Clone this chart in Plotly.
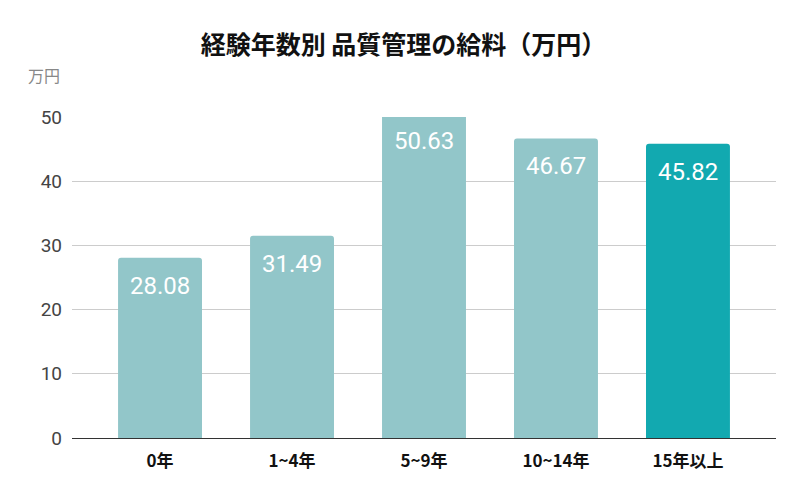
import plotly.graph_objects as go

categories = ["0年", "1~4年", "5~9年", "10~14年", "15年以上"]
values = [28.08, 31.49, 50.63, 46.67, 45.82]
bar_colors = ["#92C6C9", "#92C6C9", "#92C6C9", "#92C6C9", "#12A9B0"]
y_ticks = [0, 10, 20, 30, 40, 50]
y_range = [0, 50]

title_text = "経験年数別 品質管理の給料（万円）"
unit_text = "万円"

FONT = "Roboto, 'Noto Sans CJK JP', sans-serif"
CJK = "'Noto Sans CJK JP', sans-serif"

# page body has an 8px margin, so the figure sits at (8, 8)
OFF = 8
W, H = 799 - OFF, 494 - OFF

fig = go.Figure()
fig.add_trace(go.Bar(
    x=categories,
    y=values,
    marker=dict(color=bar_colors, line=dict(width=0)),
    hoverinfo="skip",
))

for c, v in zip(categories, values):
    fig.add_annotation(
        x=c, xref="x",
        y=(v - y_range[0]) / (y_range[1] - y_range[0]), yref="y domain",
        text=f"{v:.2f}", showarrow=False,
        yshift=-28, yanchor="middle",
        font=dict(family=FONT, size=24, color="white"),
    )

fig.add_annotation(
    x=0, y=1, xref="paper", yref="paper",
    text=unit_text, showarrow=False,
    xanchor="center", yanchor="middle", xshift=-28, yshift=42,
    font=dict(family=CJK, size=16, color="#888888"),
)

fig.update_layout(
    width=W, height=H,
    paper_bgcolor="white", plot_bgcolor="white",
    margin=dict(l=72 - OFF, r=23, t=117 - OFF, b=56),
    bargap=0.364,
    barcornerradius=3,
    showlegend=False,
    title=dict(
        text=f"<b>{title_text}</b>",
        x=0.5, xanchor="center", y=1 - (45 - OFF) / H, yanchor="middle",
        yref="container",
        font=dict(family=CJK, size=25, color="#111111"),
    ),
    xaxis=dict(
        range=[-0.667, 4.667],
        showgrid=False,
        showline=True, linecolor="#333333", linewidth=1.2,
        ticks="",
        tickfont=dict(family="'Noto Sans CJK JP', Roboto, sans-serif", size=17, color="#111111", weight="bold"),
        ticklabelstandoff=7,
    ),
    yaxis=dict(
        range=y_range,
        tickvals=y_ticks,
        showgrid=True, gridcolor="#CCCCCC", gridwidth=1,
        zeroline=False,
        showline=False,
        ticks="", ticklen=0,
        tickfont=dict(family=FONT, size=19, color="#444444"),
        ticklabelstandoff=9,
    ),
)

fig.write_html("out.html")
